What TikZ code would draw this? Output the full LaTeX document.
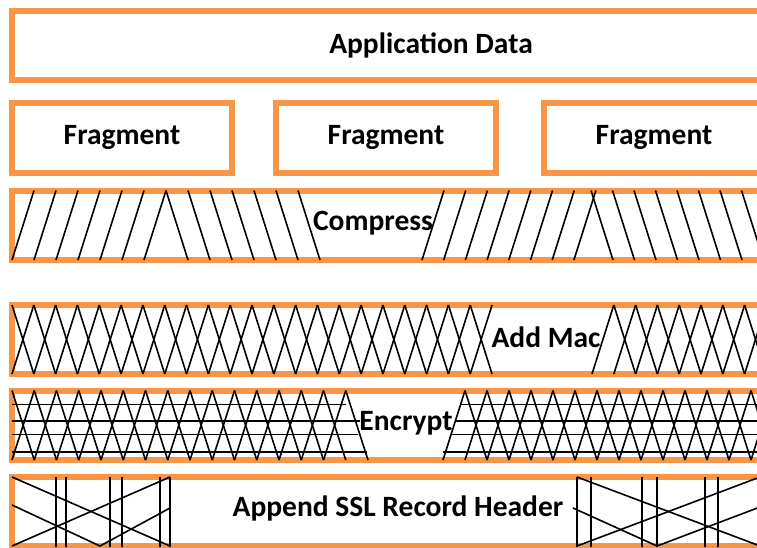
\documentclass[tikz,border=0pt]{standalone}
\usepackage{fontspec}
\setmainfont{Carlito}
\usetikzlibrary{positioning}
\definecolor{layerorange}{HTML}{F79646}

\begin{document}
\begin{tikzpicture}[x=1pt, y=-1pt,
  layerbox/.style={draw=layerorange, line width=6pt, minimum height=69.5pt, inner sep=0pt, font=\fontsize{29.5}{34}\selectfont\bfseries},
  layerlabel/.style={inner sep=0pt, font=\fontsize{29.5}{34}\selectfont\bfseries},
  hatch/.style={draw=black, line width=1.6pt}]
  \clip (0,0) rectangle (757,547);
  % Application data, running off the right edge
  \node[layerbox, minimum width=838pt] (appdata) at (431,45.5) {Application Data};
  % Fragments
  \node[layerbox, minimum width=220pt, minimum height=70pt] (frag1) at (122,137.5) {Fragment};
  \node[layerbox, minimum width=220pt, minimum height=70pt, right=38pt of frag1] (frag2) {Fragment};
  \node[layerbox, minimum width=220pt, minimum height=70pt, right=42pt of frag2] (frag3) {Fragment};
  % Compress: two groups of slanted strokes
  \node[layerbox, minimum width=900pt, anchor=west] (compress) at (9,225.25) {};
  \node[layerlabel] (compresslbl) at (373,223) {Compress};
  \foreach \k in {0,...,6}{
    \draw[hatch] ({12+22*\k},260) -- ({34+22*\k},190.5);
    \draw[hatch] ({166+22*\k},190.5) -- ({188+22*\k},260);
  }
  \foreach \k in {0,...,7}{
    \draw[hatch] ({422+21.7*\k},260) -- ({444+21.7*\k},190.5);
    \draw[hatch] ({591+21.5*\k},190.5) -- ({613+21.5*\k},260);
  }
  % Add Mac: crossed strokes
  \node[layerbox, minimum width=900pt, anchor=west] (addmac) at (9,339.5) {};
  \node[layerlabel] (addmaclbl) at (546,337) {Add Mac};
  \foreach \k in {0,...,21}{
    \draw[hatch] ({12+21.82*\k},305) -- ({12+21.82*(\k+1)},374);
    \draw[hatch] ({12+21.82*\k},374) -- ({12+21.82*(\k+1)},305);
  }
  \draw[hatch] (592,374) -- (613.8,305);
  \foreach \k in {1,...,7}{
    \draw[hatch] ({592+21.8*\k},305) -- ({592+21.8*(\k+1)},374);
    \draw[hatch] ({592+21.8*\k},374) -- ({592+21.8*(\k+1)},305);
  }
  % Encrypt: crossed strokes with horizontal bars
  \node[layerbox, minimum width=900pt, anchor=west] (encrypt) at (9,425.25) {};
  \node[layerlabel] (encryptlbl) at (406,423) {Encrypt};
  \foreach \k in {0,...,14}{
    \draw[hatch] ({12+22.25*\k},390.5) -- ({12+22.25*(\k+1)},460);
    \draw[hatch] ({12+22.25*\k},460) -- ({12+22.25*(\k+1)},390.5);
  }
  \draw[hatch] (345.75,390.5) -- (368,460);
  \draw[hatch] (12,404.3) -- (346,404.3);
  \draw[hatch] (12,420.7) -- (360,420.7);
  \draw[hatch] (12,434.3) -- (358,434.3);
  \draw[hatch] (12,451.7) -- (367,451.7);
  \draw[hatch] (443,460) -- (465,390.5);
  \foreach \k in {1,...,14}{
    \draw[hatch] ({443+22*\k},390.5) -- ({443+22*(\k+1)},460);
    \draw[hatch] ({443+22*\k},460) -- ({443+22*(\k+1)},390.5);
  }
  \draw[hatch] (460,404.3) -- (760,404.3);
  \draw[hatch] (455,420.7) -- (760,420.7);
  \draw[hatch] (450,434.3) -- (760,434.3);
  \draw[hatch] (443,451.7) -- (760,451.7);
  % Append SSL record header: bars and crossing diagonals
  \node[layerbox, minimum width=900pt, anchor=west] (append) at (9,511.5) {};
  \node[layerlabel] (appendlbl) at (398,508) {Append SSL Record Header};
  \foreach \x in {56,66,110,122,160,170,577,591,642,657,705,718}
    \draw[hatch] (\x,477) -- (\x,547);
  \draw[hatch] (12,477) -- (170,546);
  \draw[hatch] (12,505) -- (100,546) -- (170,508);
  \draw[hatch] (12,546) -- (170,477);
  \draw[hatch] (577,477) -- (760,546);
  \draw[hatch] (573,508) -- (657,546) -- (760,507);
  \draw[hatch] (577,546) -- (760,477);
\end{tikzpicture}
\end{document}
